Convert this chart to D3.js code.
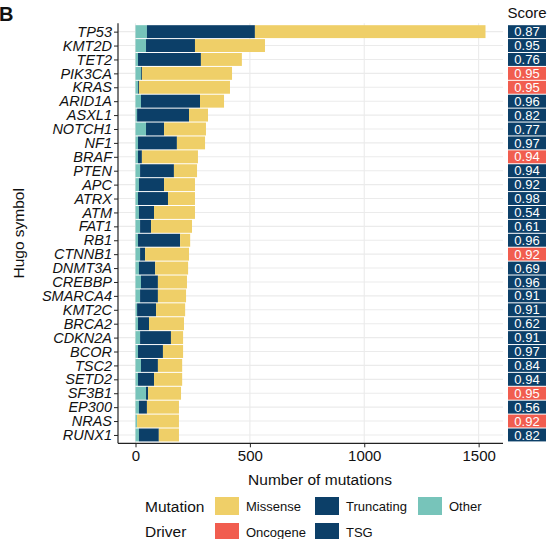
<!DOCTYPE html>
<html>
<head>
<meta charset="utf-8">
<script src="https://cdn.jsdelivr.net/npm/d3@7"></script>
<style>
  html, body { margin: 0; padding: 0; background: #fff; }
  svg { display: block; font-family: "Liberation Sans", Arial, sans-serif; }
</style>
</head>
<body>
<div id="chart"></div>
<script>
// Gene list, top to bottom
const genes = ['TP53', 'KMT2D', 'TET2', 'PIK3CA', 'KRAS', 'ARID1A', 'ASXL1', 'NOTCH1', 'NF1', 'BRAF',
    'PTEN', 'APC', 'ATRX', 'ATM', 'FAT1', 'RB1', 'CTNNB1', 'DNMT3A', 'CREBBP', 'SMARCA4',
    'KMT2C', 'BRCA2', 'CDKN2A', 'BCOR', 'TSC2', 'SETD2', 'SF3B1', 'EP300', 'NRAS', 'RUNX1'];

// mutation counts per type
const other      = [50, 46, 11, 24, 11, 24, 7, 46, 11, 11, 20, 15, 11, 15, 20, 11, 20, 15, 24, 20, 7, 11, 20, 11, 24, 11, 46, 15, 7, 15];
const truncating = [472, 214, 275, 4, 4, 258, 227, 79, 170, 17, 148, 110, 131, 66, 48, 184, 22, 71, 74, 78, 83, 48, 135, 109, 74, 70, 9, 35, 0, 87];
const missense   = [1008, 306, 179, 394, 398, 105, 83, 183, 123, 245, 101, 135, 118, 179, 179, 44, 192, 144, 127, 123, 127, 153, 53, 88, 106, 123, 144, 140, 183, 88];

// driver score column
const scores  = ['0.87', '0.95', '0.76', '0.95', '0.95', '0.96', '0.82', '0.77', '0.97', '0.94',
    '0.94', '0.92', '0.98', '0.54', '0.61', '0.96', '0.92', '0.69', '0.96', '0.91',
    '0.91', '0.62', '0.91', '0.97', '0.84', '0.94', '0.95', '0.56', '0.92', '0.82'];
const drivers = ['TSG', 'TSG', 'TSG', 'Oncogene', 'Oncogene', 'TSG', 'TSG', 'TSG', 'TSG', 'Oncogene',
    'TSG', 'TSG', 'TSG', 'TSG', 'TSG', 'TSG', 'Oncogene', 'TSG', 'TSG', 'TSG',
    'TSG', 'TSG', 'TSG', 'TSG', 'TSG', 'TSG', 'Oncogene', 'TSG', 'Oncogene', 'TSG'];

const xTicks = [0, 500, 1000, 1500];
const mutationTypes = ['Missense', 'Truncating', 'Other'];
const driverTypes = ['Oncogene', 'TSG'];

const W = 549, H = 539;
const panel = { left: 118, right: 503, top: 23.3, bottom: 443.3 };

const mutColor = d3.scaleOrdinal().domain(mutationTypes).range(['#EFCF68', '#0C3F68', '#77C4BA']);
const drvColor = d3.scaleOrdinal().domain(driverTypes).range(['#F15D4F', '#0C3F68']);

const svg = d3.select('#chart').append('svg').attr('width', W).attr('height', H);

// stacked rows: Other first, then Truncating, then Missense
const rows = genes.map((g, i) => ({ gene: g, Other: other[i], Truncating: truncating[i], Missense: missense[i] }));
const stacked = d3.stack().keys(['Other', 'Truncating', 'Missense'])(rows);

const maxTotal = d3.max(rows, d => d.Other + d.Truncating + d.Missense);
const pad = maxTotal * 0.05;
const x = d3.scaleLinear().domain([-pad, maxTotal + pad]).range([panel.left, panel.right]);
const y = d3.scalePoint().domain(genes).range([panel.top, panel.bottom]).padding(0.6);
const step = y.step();
const barH = step - 1;

// grid
const grid = svg.append('g');
grid.selectAll('.hg').data(genes).enter().append('line')
    .attr('x1', panel.left).attr('x2', panel.right)
    .attr('y1', d => y(d)).attr('y2', d => y(d))
    .attr('stroke', '#EBEBEB').attr('stroke-width', 1.1);
grid.selectAll('.vg').data(xTicks).enter().append('line')
    .attr('x1', d => x(d)).attr('x2', d => x(d))
    .attr('y1', panel.top).attr('y2', panel.bottom)
    .attr('stroke', '#EBEBEB').attr('stroke-width', 1.1);

// bars
svg.append('g').selectAll('g').data(stacked).enter().append('g')
    .attr('fill', s => mutColor(s.key))
    .selectAll('rect').data(s => s).enter().append('rect')
    .attr('x', d => x(d[0]))
    .attr('width', d => Math.max(0, x(d[1]) - x(d[0])))
    .attr('y', d => y(d.data.gene) - barH / 2)
    .attr('height', barH);

// axes
const yAxis = svg.append('g').attr('transform', `translate(${panel.left},0)`)
    .call(d3.axisLeft(y).tickSize(4).tickPadding(2));
yAxis.select('.domain').attr('d', `M0,${panel.top}V${panel.bottom}`).attr('stroke', '#222').attr('stroke-width', 1.2);
yAxis.selectAll('.tick line').attr('stroke', '#222');
yAxis.selectAll('.tick text').attr('font-size', 14.5).attr('font-style', 'italic').attr('fill', '#111')
    .attr('font-family', '"Liberation Sans", Arial, sans-serif');

const xAxis = svg.append('g').attr('transform', `translate(0,${panel.bottom})`)
    .call(d3.axisBottom(x).tickValues(xTicks).tickFormat(d3.format('d')).tickSize(4).tickPadding(3));
xAxis.select('.domain').attr('d', `M${panel.left},0H${panel.right}`).attr('stroke', '#222').attr('stroke-width', 1.2);
xAxis.selectAll('.tick line').attr('stroke', '#222');
xAxis.selectAll('.tick text').attr('font-size', 15).attr('fill', '#111')
    .attr('font-family', '"Liberation Sans", Arial, sans-serif');

// axis titles
svg.append('text').attr('x', 320).attr('y', 485).attr('text-anchor', 'middle')
    .attr('font-size', 15.5).attr('fill', '#111').text('Number of mutations');
svg.append('text').attr('transform', `translate(24,${(panel.top + panel.bottom) / 2}) rotate(-90)`)
    .attr('text-anchor', 'middle').attr('font-size', 15.5).attr('fill', '#111').text('Hugo symbol');

// panel tag
svg.append('text').attr('x', -1).attr('y', 21).attr('font-size', 20).attr('font-weight', 'bold')
    .attr('fill', '#111').text('B');

// score column
const scoreX = 508, scoreW = 38;
svg.append('text').attr('x', scoreX + scoreW / 2).attr('y', 18).attr('text-anchor', 'middle')
    .attr('font-size', 15).attr('fill', '#111').text('Score');
const sc = svg.append('g').selectAll('g').data(genes).enter().append('g');
sc.append('rect')
    .attr('x', scoreX).attr('width', scoreW)
    .attr('y', d => y(d) - barH / 2).attr('height', barH)
    .attr('fill', (d, i) => drvColor(drivers[i]));
sc.append('text')
    .attr('x', scoreX + scoreW / 2).attr('y', d => y(d) + 4.6)
    .attr('text-anchor', 'middle').attr('font-size', 13).attr('fill', '#fff')
    .text((d, i) => scores[i]);

// legend
const legend = svg.append('g');
const keyX = [215, 315, 418];
legend.append('text').attr('x', 145).attr('y', 512).attr('font-size', 15.5).attr('fill', '#111').text('Mutation');
mutationTypes.forEach((m, i) => {
    legend.append('rect').attr('x', keyX[i]).attr('y', 497).attr('width', 24).attr('height', 18).attr('fill', mutColor(m));
    legend.append('text').attr('x', keyX[i] + 31).attr('y', 511).attr('font-size', 13).attr('fill', '#111').text(m);
});
legend.append('text').attr('x', 145).attr('y', 537).attr('font-size', 15.5).attr('fill', '#111').text('Driver');
driverTypes.forEach((d, i) => {
    legend.append('rect').attr('x', keyX[i]).attr('y', 523).attr('width', 24).attr('height', 18).attr('fill', drvColor(d));
    legend.append('text').attr('x', keyX[i] + 31).attr('y', 537).attr('font-size', 13).attr('fill', '#111').text(d);
});
</script>
</body>
</html>
